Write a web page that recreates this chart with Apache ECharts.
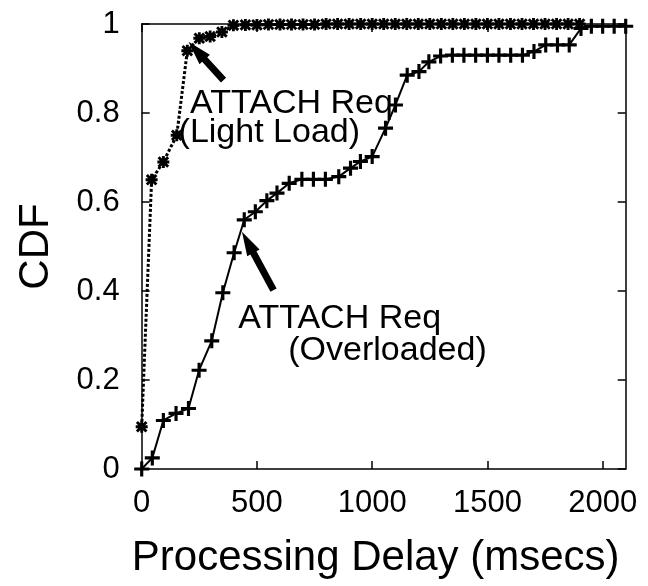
<!DOCTYPE html>
<html>
<head>
<meta charset="utf-8">
<script src="https://cdn.jsdelivr.net/npm/echarts@6/dist/echarts.min.js"></script>
<style>
html,body{margin:0;padding:0;background:#fff;}
#chart{width:648px;height:586px;}
</style>
</head>
<body>
<div id="chart"></div>
<script>
// ---- data ----
const xTicks = [0, 500, 1000, 1500, 2000];
const yTicks = [0, 0.2, 0.4, 0.6, 0.8, 1];

const lightX = [0, 43, 94, 152, 198, 250, 297, 348, 398, 450, 500, 550, 600, 650, 700, 750, 800, 850, 900, 950, 1000, 1050, 1100, 1150, 1200, 1250, 1300, 1350, 1400, 1450, 1500, 1550, 1600, 1650, 1700, 1750, 1800, 1850, 1900];
const lightY = [0.095, 0.65, 0.69, 0.75, 0.94, 0.968, 0.972, 0.982, 0.997, 0.998, 0.998, 0.999, 0.999, 0.999, 0.999, 0.999, 1, 1, 1, 1, 1, 1, 1, 1, 1, 1, 1, 1, 1, 1, 1, 1, 1, 1, 1, 1, 1, 1, 1];

const overX = [0, 46, 94, 149, 203, 249, 304, 352, 401, 445, 493, 543, 587, 640, 695, 745, 797, 855, 906, 949, 1000, 1058, 1101, 1152, 1203, 1246, 1297, 1348, 1398, 1449, 1500, 1550, 1601, 1652, 1702, 1753, 1804, 1855, 1906, 1951, 2000, 2050, 2100];
const overY = [0, 0.025, 0.109, 0.125, 0.136, 0.222, 0.288, 0.396, 0.486, 0.56, 0.578, 0.603, 0.62, 0.642, 0.651, 0.651, 0.651, 0.657, 0.676, 0.691, 0.702, 0.766, 0.818, 0.885, 0.893, 0.915, 0.928, 0.93, 0.93, 0.93, 0.93, 0.93, 0.93, 0.93, 0.938, 0.953, 0.953, 0.953, 0.99, 0.995, 0.995, 0.995, 0.995];

const annLines = ['ATTACH Req', '(Light Load)', 'ATTACH Req', '(Overloaded)'];
const annAnchors = [[210, 0.795], [160, 0.728], [419, 0.312], [636, 0.238]];
const arrowTails = [[355, 0.874], [572, 0.402]];
const arrowTips = [[203, 0.96], [435, 0.533]];

// ---- chart ----
const FONT = "'Liberation Sans', Arial, sans-serif";
const asterisk = 'path://M0 7.6L20 7.6L20 12.4L0 12.4Z M7.6 0L12.4 0L12.4 20L7.6 20Z M3.7 0.3L19.7 16.3L16.3 19.7L0.3 3.7Z M16.3 0.3L19.7 3.7L3.7 19.7L0.3 16.3Z';
const plus = 'path://M0 7.9L20 7.9L20 12.1L0 12.1Z M7.9 0L12.1 0L12.1 20L7.9 20Z';

const chart = echarts.init(document.getElementById('chart'), null, {renderer: 'canvas'});

function axisCommon() {
  return {
    axisLine: {show: true, onZero: false, lineStyle: {color: '#000', width: 1.5}},
    axisTick: {show: true, inside: true, length: 8, lineStyle: {color: '#000', width: 1.5}},
    splitLine: {show: false}
  };
}

chart.setOption({
  animation: false,
  backgroundColor: '#fff',
  grid: {left: 141.7, right: 22.3, top: 24, bottom: 117, containLabel: false},
  xAxis: [
    Object.assign({
      type: 'value', min: 0, max: 2100, interval: 500, position: 'bottom',
      name: 'Processing Delay (msecs)', nameLocation: 'middle', nameGap: 68,
      nameTextStyle: {fontFamily: FONT, fontSize: 42, color: '#000', padding: [0, 16, 0, 0]},
      axisLabel: {fontFamily: FONT, fontSize: 31, color: '#000', margin: 19, showMaxLabel: false,
        formatter: v => xTicks.indexOf(v) >= 0 ? String(v) : ''}
    }, axisCommon()),
    Object.assign({
      type: 'value', min: 0, max: 2100, interval: 500, position: 'top',
      axisLabel: {show: false}
    }, axisCommon())
  ],
  yAxis: [
    Object.assign({
      type: 'value', min: 0, max: 1, interval: 0.2, position: 'left',
      name: 'CDF', nameLocation: 'middle', nameGap: 84,
      nameTextStyle: {fontFamily: FONT, fontSize: 42, color: '#000'},
      axisLabel: {fontFamily: FONT, fontSize: 31, color: '#000', margin: 22,
        formatter: v => { const t = yTicks.find(k => Math.abs(k - v) < 1e-9); return t === undefined ? '' : String(t); }}
    }, axisCommon()),
    Object.assign({
      type: 'value', min: 0, max: 1, interval: 0.2, position: 'right',
      axisLabel: {show: false}
    }, axisCommon())
  ],
  series: [
    {
      name: 'Overloaded', type: 'line', xAxisIndex: 0, yAxisIndex: 0,
      data: overX.map((x, i) => [x, overY[i]]),
      symbol: plus, symbolSize: 15, showAllSymbol: true, clip: false,
      itemStyle: {color: '#000'},
      lineStyle: {color: '#000', width: 2, type: 'solid'}
    },
    {
      name: 'Light Load', type: 'line', xAxisIndex: 0, yAxisIndex: 0,
      data: lightX.map((x, i) => [x, lightY[i]]),
      symbol: asterisk, symbolSize: 12, showAllSymbol: true, clip: false,
      itemStyle: {color: '#000'},
      lineStyle: {color: '#000', width: 3, type: [3, 2]}
    }
  ]
});

function px(p) { return chart.convertToPixel({xAxisIndex: 0, yAxisIndex: 0}, p); }

function arrowPoly(tailD, tipD, sw, hw, hl) {
  const t = px(tailD), h = px(tipD);
  const dx = h[0] - t[0], dy = h[1] - t[1];
  const len = Math.sqrt(dx * dx + dy * dy);
  const ux = dx / len, uy = dy / len, nx = -uy, ny = ux;
  const bx = h[0] - ux * hl, by = h[1] - uy * hl;
  return [
    [t[0] + nx * sw / 2, t[1] + ny * sw / 2],
    [bx + nx * sw / 2, by + ny * sw / 2],
    [bx + nx * hw / 2, by + ny * hw / 2],
    [h[0], h[1]],
    [bx - nx * hw / 2, by - ny * hw / 2],
    [bx - nx * sw / 2, by - ny * sw / 2],
    [t[0] - nx * sw / 2, t[1] - ny * sw / 2]
  ];
}

const graphics = [];
annLines.forEach((txt, i) => {
  const p = px(annAnchors[i]);
  graphics.push({
    type: 'text', x: p[0], y: p[1] - 12, z: 10,
    style: {text: txt, fill: '#000', font: '34px ' + FONT, align: 'left', verticalAlign: 'middle'}
  });
});
arrowTails.forEach((tl, i) => {
  graphics.push({
    type: 'polygon', z: 10,
    shape: {points: arrowPoly(tl, arrowTips[i], 7, 14, 24)},
    style: {fill: '#000', stroke: null}
  });
});
chart.setOption({graphic: graphics});
</script>
</body>
</html>
